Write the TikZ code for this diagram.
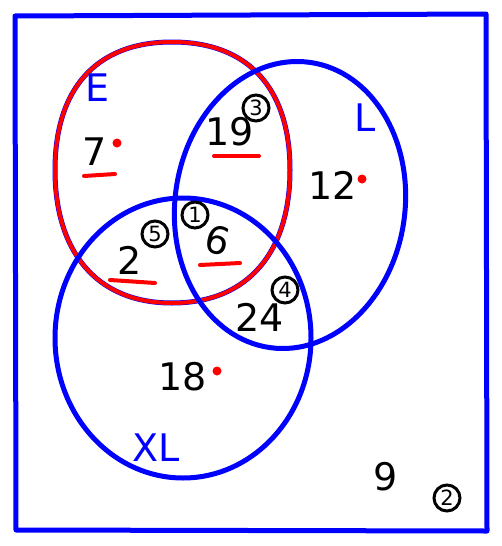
\documentclass[tikz,border=0pt]{standalone}
\usepackage{fontspec}
\setmainfont{DejaVu Sans}
\begin{document}
\begin{tikzpicture}[x=1pt,y=-1pt,
  blueline/.style={draw=blue,line width=5pt,line cap=round,line join=round},
  redline/.style={draw=red,line width=4pt,line cap=round},
  num/.style={text=black,font=\fontsize{38}{38}\selectfont,inner sep=0pt},
  lab/.style={text=blue,font=\fontsize{38}{38}\selectfont,inner sep=0pt},
  circnum/.style={draw=black,line width=3pt,circle,inner sep=0pt,minimum size=26pt,font=\fontsize{21}{21}\selectfont},
  reddot/.style={fill=red,circle,inner sep=0pt,minimum size=9pt},
  underline/.style={draw=red,line width=4pt,line cap=round}]
\useasboundingbox (0,0) rectangle (501,546);
\fill[white] (0,0) rectangle (501,546);
% outer frame
\draw[blueline] (15,16) -- (486,14) -- (487,531) -- (16,530) -- cycle;
% sets
\def\Epath{(55,170) .. controls (55,90) and (95,42) .. (172,42) .. controls (250,42) and (290,90) .. (290,170) .. controls (290,250) and (250,303) .. (172,303) .. controls (95,303) and (55,250) .. cycle}
\draw[blueline] \Epath;
\draw[redline] \Epath;
\draw[blueline,rotate around={-8:(290,205)}] (290,205) ellipse [x radius=115,y radius=144];
\draw[blueline] (183,338) ellipse [x radius=128,y radius=140];
% labels
\node[lab] (E) at (98,88) {E};
\node[lab] (L) at (365,118) {L};
\node[lab] (XL) at (156,448) {XL};
% numbers
\node[num] (n7) at (95,152) {7};
\node[reddot] (d7) at (117,143) {};
\draw[underline] (84,176) -- (115,174);
\node[num] (n19) at (230,132) {19};
\node[circnum] (c3) at (256,108) {3};
\draw[underline] (214,156) -- (259,156);
\node[num] (n12) at (333,185) {12};
\node[reddot] (d12) at (362,179) {};
\node[circnum] (c1) at (195,215) {1};
\node[num,rotate=-15] (n6) at (218,240) {6};
\draw[underline] (200,265) -- (240,263);
\node[num] (n2) at (130,260) {2};
\node[circnum] (c5) at (155,234) {5};
\draw[underline] (110,280) -- (155,283);
\node[circnum] (c4) at (285,290) {4};
\node[num] (n24) at (260,317) {24};
\node[num] (n18) at (183,377) {18};
\node[reddot] (d18) at (217,371) {};
\node[num] (n9) at (386,477) {9};
\node[circnum] (c2) at (447,498) {2};
\end{tikzpicture}
\end{document}
